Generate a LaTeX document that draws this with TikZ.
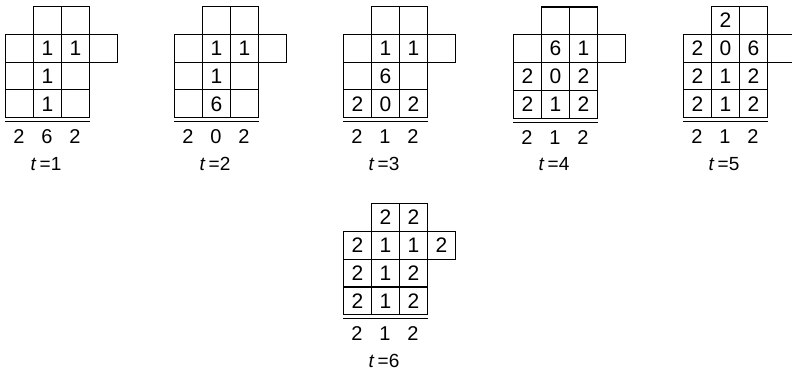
\documentclass[tikz,border=0pt]{standalone}
\usepackage{fontspec}
\setmainfont{Liberation Sans}
\newcommand\mygrid[6]{%
  \foreach \r/\c/\t in {#4} {\node[cell] (#1-\r\c) at ({#2+28*\c},{#3+27.8*\r}) {\t};}
  \draw[underl] ([yshift=-3.5pt]#1-30.south west) -- ([yshift=-3.5pt]#1-32.south east);
  \foreach \v [count=\i from 0] in {#5} {\node[colnum] (#1-b\i) at ({#2+14+28*\i},{#3+131}) {\v};}
  \node[tlabel] (#1-t) at ({#2+41},{#3+158}) {\textit{t}\,=#6};
}
\begin{document}
\begin{tikzpicture}[x=1pt,y=-1pt,
  cell/.style={draw, line width=1.1pt, minimum width=28pt, minimum height=27.8pt,
    inner sep=0pt, anchor=north west, font=\fontsize{21}{21}\selectfont},
  colnum/.style={font=\fontsize{20}{20}\selectfont, inner sep=0pt},
  tlabel/.style={font=\fontsize{19}{19}\selectfont, inner sep=0pt},
  underl/.style={line width=1.3pt}]
\clip (0,0) rectangle (792,374);
\useasboundingbox (0,0) rectangle (792,374);
\mygrid{ga}{5}{6}{0/1/{},0/2/{},1/0/{},1/1/1,1/2/1,1/3/{},2/0/{},2/1/1,2/2/{},3/0/{},3/1/1,3/2/{}}{2,6,2}{1}
\mygrid{gb}{174}{6}{0/1/{},0/2/{},1/0/{},1/1/1,1/2/1,1/3/{},2/0/{},2/1/1,2/2/{},3/0/{},3/1/6,3/2/{}}{2,0,2}{2}
\mygrid{gc}{343}{6}{0/1/{},0/2/{},1/0/{},1/1/1,1/2/1,1/3/{},2/0/{},2/1/6,2/2/{},3/0/2,3/1/0,3/2/2}{2,1,2}{3}
\mygrid{gd}{513}{6.5}{0/1/{},0/2/{},1/0/{},1/1/6,1/2/1,1/3/{},2/0/2,2/1/0,2/2/2,3/0/2,3/1/1,3/2/2}{2,1,2}{4}
\mygrid{ge}{683}{6}{0/1/2,0/2/{},1/0/2,1/1/0,1/2/6,1/3/{},2/0/2,2/1/1,2/2/2,3/0/2,3/1/1,3/2/2}{2,1,2}{5}
\mygrid{gf}{343}{203}{0/1/2,0/2/2,1/0/2,1/1/1,1/2/1,1/3/2,2/0/2,2/1/1,2/2/2,3/0/2,3/1/1,3/2/2}{2,1,2}{6}
\end{tikzpicture}
\end{document}
